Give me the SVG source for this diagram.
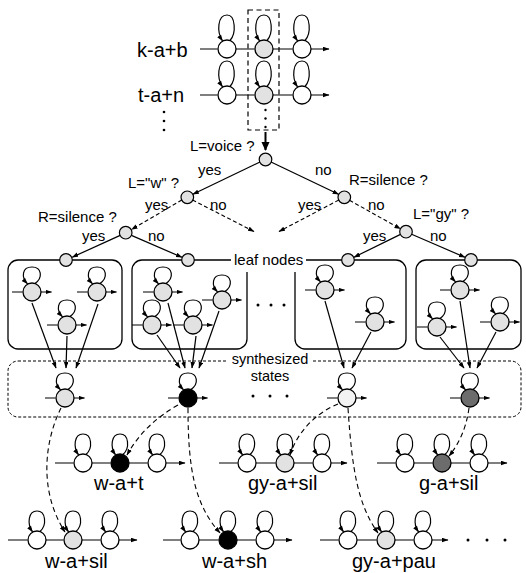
<svg xmlns="http://www.w3.org/2000/svg" xmlns:xlink="http://www.w3.org/1999/xlink" width="526" height="573" viewBox="0 0 526 573">
<style>
text{font-family:"Liberation Sans",Arial,sans-serif;fill:#000}
.big{font-size:20px}
.lab{font-size:15px}
.ln{stroke:#000;stroke-width:1.2;fill:none}
.ar{stroke:#000;stroke-width:1.2;fill:none;marker-end:url(#ah)}
.dsh{stroke:#000;stroke-width:1.1;fill:none;stroke-dasharray:4,2.5;marker-end:url(#ah)}
.dsh2{stroke:#000;stroke-width:1.1;fill:none;stroke-dasharray:5,3.5;marker-end:url(#ah)}
.box{stroke:#000;stroke-width:1.3;fill:none}
.lg{fill:#e2e2e2}
.wh{fill:#fff}
.bk{fill:#000}
.dk{fill:#6c6c6c}
.vl{fill:#f3f3f3}
</style>
<defs>
<marker id="ah" markerUnits="userSpaceOnUse" markerWidth="7" markerHeight="6" refX="6" refY="2.3" orient="auto"><path d="M0,0 L6.5,2.3 L0,4.6 z" fill="#000"/></marker>
<marker id="ahb" markerUnits="userSpaceOnUse" markerWidth="10" markerHeight="10" refX="8" refY="4" orient="auto"><path d="M0,0 L9,4 L0,8 z" fill="#000"/></marker>
<g id="sT"><path d="M3,-8.5 C9.5,-16 8.5,-34 0,-34 C-9.5,-34 -10.5,-17 -4.5,-8.2" class="ar"/><circle r="9" stroke="#000" stroke-width="1.3"/></g>
<g id="sB"><path d="M3,-8.5 C10,-15 9,-29 0,-29 C-9,-29 -10,-16 -4.5,-8.2" class="ar"/><circle r="9" stroke="#000" stroke-width="1.3"/></g>
<g id="sL"><path d="M3,-8.5 C11,-14 10,-25 0,-25 C-10,-25 -11,-15 -4.5,-8.2" class="ar"/><circle r="9" stroke="#000" stroke-width="1.3"/><path d="M-20,0 L-9.5,0 M9,0 L19.5,0" class="ar"/></g>
<circle id="tn" r="6.3" stroke="#000" stroke-width="1.2" fill="#e2e2e2"/>
</defs>

<!-- top HMMs -->
<g id="hmm-kab">
<text class="big" x="137" y="56.5">k-a+b</text>
<path class="ar" d="M200,49 L217.5,49 M236,49 L254.5,49 M273,49 L292.5,49 M311,49 L329,49"/>
<use href="#sT" x="227" y="49" class="wh"/>
<use href="#sT" x="264" y="49" class="lg"/>
<use href="#sT" x="302" y="49" class="wh"/>
</g>
<g id="hmm-tan">
<text class="big" x="138" y="101.5">t-a+n</text>
<path class="ar" d="M200,95 L217.5,95 M236,95 L254.5,95 M273,95 L292.5,95 M311,95 L329,95"/>
<use href="#sT" x="227" y="95" class="wh"/>
<use href="#sT" x="264" y="95" class="lg"/>
<use href="#sT" x="302" y="95" class="wh"/>
</g>
<g id="vdots">
<circle cx="164" cy="112" r="1.3"/><circle cx="164" cy="121" r="1.3"/><circle cx="164" cy="130" r="1.3"/>
</g>
<g id="column">
<rect x="248" y="10" width="31" height="120" fill="none" stroke="#000" stroke-width="1.2" stroke-dasharray="5,3.5"/>
<circle cx="265.5" cy="110" r="1.2"/><circle cx="265.5" cy="118.5" r="1.2"/><circle cx="265.5" cy="127" r="1.2"/>
</g>

<!-- tree nodes -->
<g id="q-root"><use href="#tn" x="265.5" y="159.5"/><text class="lab" x="190" y="150.5">L=voice ?</text></g>
<g id="q-w"><use href="#tn" x="187.3" y="197.3"/><text class="lab" x="128" y="188">L="w" ?</text></g>
<g id="q-rsil1"><use href="#tn" x="344.3" y="197.3"/><text class="lab" x="349" y="185">R=silence ?</text></g>
<g id="q-rsil2"><use href="#tn" x="125.7" y="232.7"/><text class="lab" x="38" y="222">R=silence ?</text></g>
<g id="q-gy"><use href="#tn" x="406" y="231.7"/><text class="lab" x="413" y="219">L="gy" ?</text></g>

<!-- leaf boxes -->
<g id="leaf1">
<rect class="box" x="8" y="260" width="114" height="89" rx="10"/>
<use href="#sL" x="32" y="292" class="lg"/>
<use href="#sL" x="97" y="292" class="lg"/>
<use href="#sL" x="67" y="325" class="lg"/>
</g>
<g id="leaf2">
<rect class="box" x="132" y="260" width="115" height="89" rx="10"/>
<use href="#sL" x="163" y="292" class="lg"/>
<use href="#sL" x="222" y="300" class="lg"/>
<use href="#sL" x="152" y="325" class="lg"/>
<use href="#sL" x="193" y="325" class="lg"/>
</g>
<g id="leaf3">
<rect class="box" x="295" y="260" width="111" height="89" rx="10"/>
<use href="#sL" x="325" y="290" class="lg"/>
<use href="#sL" x="375" y="322" class="lg"/>
</g>
<g id="leaf4">
<rect class="box" x="416" y="260" width="105" height="89" rx="10"/>
<use href="#sL" x="460" y="290" class="lg"/>
<use href="#sL" x="437" y="327" class="lg"/>
<use href="#sL" x="500" y="322" class="lg"/>
</g>
<g id="leaf-label">
<rect x="231" y="249" width="75" height="23" fill="#fff"/>
<text class="lab" x="234" y="265">leaf nodes</text>
</g>
<g id="leafnodes">
<use href="#tn" x="66" y="260"/>
<use href="#tn" x="188" y="260"/>
<use href="#tn" x="348" y="260"/>
<use href="#tn" x="471" y="260"/>
</g>
<g id="leafdots"><circle cx="258" cy="305" r="1.5"/><circle cx="271" cy="305" r="1.5"/><circle cx="284" cy="305" r="1.5"/></g>

<!-- synthesized states -->
<g id="synth">
<rect x="8" y="361" width="513" height="56" rx="10" fill="none" stroke="#000" stroke-width="1" stroke-dasharray="3,2"/>
<rect x="227" y="351" width="86" height="32" fill="#fff"/>
<text class="lab" x="270" y="364" text-anchor="middle" style="font-size:14.5px">synthesized</text>
<text class="lab" x="270" y="381" text-anchor="middle" style="font-size:14.5px">states</text>
<circle cx="253" cy="396" r="1.5"/><circle cx="270" cy="396" r="1.5"/><circle cx="287" cy="396" r="1.5"/>
</g>
<g id="syn1"><use href="#sL" x="65" y="398" class="lg"/></g>
<g id="syn2"><use href="#sL" x="188" y="398" class="bk"/></g>
<g id="syn3"><use href="#sL" x="347" y="398" class="vl"/></g>
<g id="syn4"><use href="#sL" x="470" y="398" class="dk"/></g>

<!-- bottom HMMs -->
<g id="hmm-wat">
<path class="ar" d="M55,463 L73.5,463 M92,463 L110.5,463 M129,463 L147.5,463 M166,463 L185,463"/>
<use href="#sB" x="83" y="463" class="wh"/>
<use href="#sB" x="120" y="463" class="bk"/>
<use href="#sB" x="157" y="463" class="wh"/>
<text class="big" x="94" y="490">w-a+t</text>
</g>
<g id="hmm-gyasil">
<path class="ar" d="M219,463 L237.5,463 M256,463 L275.5,463 M294,463 L312.5,463 M331,463 L347,463"/>
<use href="#sB" x="247" y="463" class="wh"/>
<use href="#sB" x="285" y="463" class="lg"/>
<use href="#sB" x="322" y="463" class="wh"/>
<text class="big" x="248" y="490">gy-a+sil</text>
</g>
<g id="hmm-gasil">
<path class="ar" d="M377,463 L395.5,463 M414,463 L432.5,463 M451,463 L469.5,463 M488,463 L507,463"/>
<use href="#sB" x="405" y="463" class="wh"/>
<use href="#sB" x="442" y="463" class="dk"/>
<use href="#sB" x="479" y="463" class="wh"/>
<text class="big" x="419" y="489.5">g-a+sil</text>
</g>
<g id="hmm-wasil">
<path class="ar" d="M8,540 L27.5,540 M46,540 L63.5,540 M82,540 L100.5,540 M119,540 L137,540"/>
<use href="#sB" x="37" y="540" class="wh"/>
<use href="#sB" x="73" y="540" class="lg"/>
<use href="#sB" x="110" y="540" class="wh"/>
<text class="big" x="45" y="568">w-a+sil</text>
</g>
<g id="hmm-wash">
<path class="ar" d="M163,540 L180.5,540 M199,540 L218.5,540 M237,540 L255.5,540 M274,540 L292,540"/>
<use href="#sB" x="190" y="540" class="wh"/>
<use href="#sB" x="228" y="540" class="bk"/>
<use href="#sB" x="265" y="540" class="wh"/>
<text class="big" x="202" y="568">w-a+sh</text>
</g>
<g id="hmm-gyapau">
<path class="ar" d="M320,540 L338.5,540 M357,540 L376.5,540 M395,540 L413.5,540 M432,540 L448,540"/>
<use href="#sB" x="348" y="540" class="wh"/>
<use href="#sB" x="386" y="540" class="lg"/>
<use href="#sB" x="423" y="540" class="wh"/>
<text class="big" x="352" y="568">gy-a+pau</text>
<circle cx="468" cy="540" r="1.5"/><circle cx="487" cy="540" r="1.5"/><circle cx="505" cy="540" r="1.5"/>
</g>

<!-- connectors -->
<g id="connectors">
<path d="M265.5,132 L265.5,150" stroke="#000" stroke-width="2" fill="none" marker-end="url(#ahb)"/>
<path class="ar" d="M260,162 L192.8,194.3"/>
<path class="ar" d="M271,162 L338.6,194.3"/>
<text class="lab" x="198" y="175">yes</text>
<text class="lab" x="315" y="175">no</text>
<path class="dsh" d="M181.8,200 L131.5,229.5"/>
<path class="dsh" d="M192.5,200 L254,231.5"/>
<path class="dsh" d="M338.8,200 L279,231.5"/>
<path class="dsh" d="M349.5,200.3 L400.5,228.8"/>
<text class="lab" x="145" y="210">yes</text>
<text class="lab" x="210" y="210">no</text>
<text class="lab" x="298" y="210">yes</text>
<text class="lab" x="368" y="210">no</text>
<path class="ar" d="M120.2,235.4 L72.2,257.2"/>
<path class="ar" d="M131.4,235.4 L182,257.3"/>
<path class="ar" d="M400.5,234.4 L354,257.2"/>
<path class="ar" d="M411.6,234.3 L465,257.3"/>
<text class="lab" x="82" y="241">yes</text>
<text class="lab" x="148" y="241">no</text>
<text class="lab" x="363" y="241">yes</text>
<text class="lab" x="430" y="241">no</text>
<path class="ar" d="M32,303 L56,368"/>
<path class="ar" d="M67,336 L66,368"/>
<path class="ar" d="M98,304 L76,368"/>
<path class="ar" d="M157,335 L180,368"/>
<path class="ar" d="M168,303 L185,368"/>
<path class="ar" d="M196,336 L192,368"/>
<path class="ar" d="M219,311 L199,368"/>
<path class="ar" d="M325,301 L344,368"/>
<path class="ar" d="M371,332 L352,368"/>
<path class="ar" d="M460,301 L470,368"/>
<path class="ar" d="M440,337 L464,368"/>
<path class="ar" d="M496,332 L477,368"/>
<path class="dsh2" d="M61,408 C45,440 38,490 65,532"/>
<path class="dsh2" d="M178,405 C155,418 138,435 127,455"/>
<path class="dsh2" d="M188,408 C188,470 195,505 220,533"/>
<path class="dsh2" d="M338,404 C318,412 298,430 290,455"/>
<path class="dsh2" d="M348,408 C352,470 358,505 378,533"/>
<path class="dsh2" d="M469,408 C466,430 458,445 449,456"/>
</g>
</svg>
